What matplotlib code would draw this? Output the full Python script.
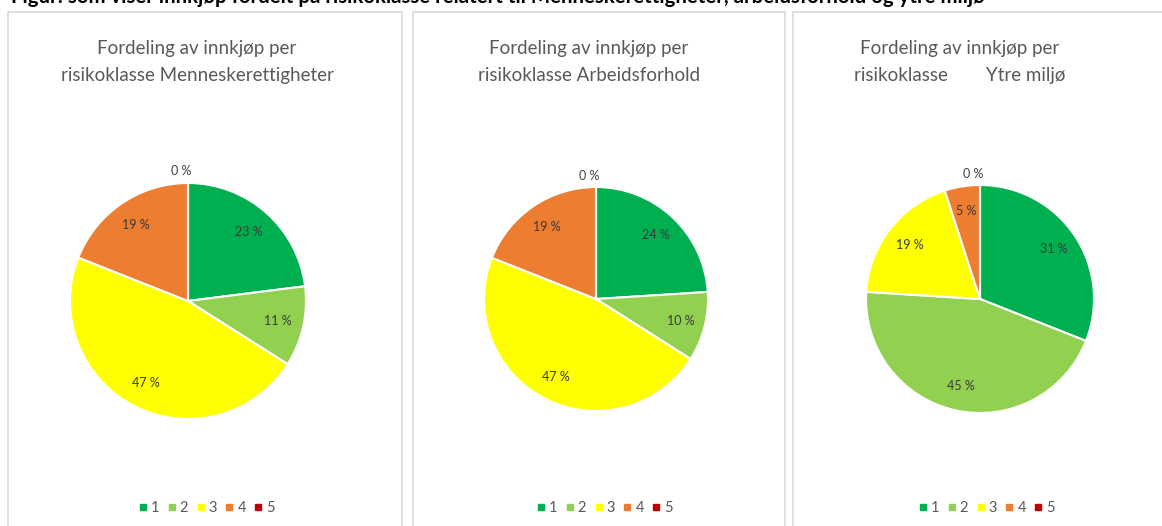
import matplotlib
matplotlib.use("Agg")
import matplotlib.pyplot as plt
from matplotlib.patches import Rectangle
from matplotlib.lines import Line2D
import numpy as np

plt.rcParams['font.family'] = ['Lato', 'DejaVu Sans']

# data
klasser = ['1', '2', '3', '4', '5']
menneskerettigheter = [23, 11, 47, 19, 0]
arbeidsforhold = [24, 10, 47, 19, 0]
ytre_miljo = [31, 45, 19, 5, 0]
titler = ['Fordeling av innkjøp per\nrisikoklasse Menneskerettigheter',
          'Fordeling av innkjøp per\nrisikoklasse Arbeidsforhold',
          'Fordeling av innkjøp per\nrisikoklasse        Ytre miljø']
farger = ['#00B050', '#92D050', '#FFFF00', '#ED7D31', '#C00000']
overskrift = ('Figur: som viser innkjøp fordelt på risikoklasse relatert til '
              'Menneskerettigheter, arbeidsforhold og ytre miljø')

W, H = 1162, 526
fig = plt.figure(figsize=(W / 100, H / 100), dpi=100)

def fx(px):
    return px / W

def fy(py):
    return 1 - py / H

# heading, cut off at the top edge like in the source screenshot
fig.text(fx(11), fy(3), overskrift, fontsize=14.7, fontweight='bold',
         color='black', ha='left', va='baseline')

# panel frames (x0, x1)
paneler = [(8, 402), (413, 785), (793, 1175)]
for x0, x1 in paneler:
    fig.patches.append(Rectangle((fx(x0), fy(530)), fx(x1 - x0), fy(12) - fy(530),
                                 transform=fig.transFigure, fill=False,
                                 edgecolor='#d9d9d9', linewidth=1.2))

# pie centres and radii in pixels
sentre = [(188, 301, 118), (596, 299, 112), (980, 299, 114)]
tittel_x = [197, 589, 960]
legend_x = [207, 605, 987]

for i, verdier in enumerate([menneskerettigheter, arbeidsforhold, ytre_miljo]):
    cx, cy, r = sentre[i]
    ax = fig.add_axes([fx(cx - r), fy(cy + r), fx(2 * r), fy(cy - r) - fy(cy + r)])
    wedges, _ = ax.pie(verdier, colors=farger, startangle=90, counterclock=False,
                       radius=1, wedgeprops=dict(edgecolor='white', linewidth=1.5))
    ax.set_xlim(-1, 1)
    ax.set_ylim(-1, 1)
    ax.set_aspect('equal')
    ax.axis('off')
    for w, v in zip(wedges, verdier):
        vinkel = np.deg2rad((w.theta1 + w.theta2) / 2)
        if v == 0:
            ax.text(-0.06, 1.1, f'{v} %', ha='center', va='center',
                    fontsize=9, color='#404040')
        else:
            d = 0.78
            ax.text(d * np.cos(vinkel), d * np.sin(vinkel), f'{v} %',
                    ha='center', va='center', fontsize=9, color='#3a3a3a')

    fig.text(fx(tittel_x[i]), fy(62), titler[i], ha='center', va='center',
             fontsize=13.5, color='#595959', linespacing=1.7)

    handles = [Line2D([], [], marker='s', linestyle='none', markersize=5,
                      markerfacecolor=c, markeredgecolor=c) for c in farger]
    fig.legend(handles, klasser, loc='center', bbox_to_anchor=(fx(legend_x[i]), fy(508)),
               ncol=5, frameon=False, handlelength=0.5, handletextpad=0.3,
               columnspacing=0.6, fontsize=10.5, labelcolor='#595959')

fig.savefig('out.png', dpi=100)
